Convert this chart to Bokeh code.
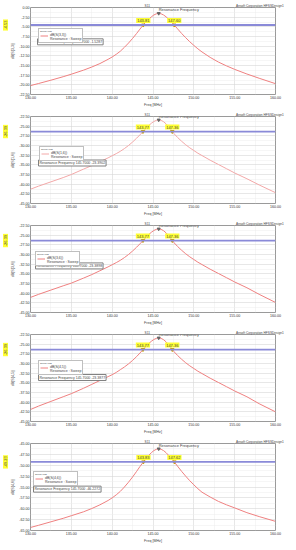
from bokeh.plotting import figure
from bokeh.layouts import column
from bokeh.models import (Label, Span, Range1d, FixedTicker, NumeralTickFormatter,
                          Legend, LegendItem, LinearAxis, Title)
from bokeh.embed import file_html
from bokeh.resources import INLINE

# ---------------- data ----------------
freq = [130, 131, 132.5, 134, 135, 136.5, 137.5, 138.5, 139.5, 140, 140.5, 141, 141.5,
        142, 142.5, 143, 143.4, 143.8, 144.2, 144.5, 144.8, 145.1, 145.4, 145.7, 146.0,
        146.3, 146.6, 146.9, 147.2, 147.6, 148.0, 148.5, 149, 149.5, 150, 150.5, 151,
        152, 153, 154, 155, 156.5, 158, 160]

db_s33 = [-20.2, -19.65, -18.8, -17.9, -17.25, -16.2, -15.4, -14.5, -13.4, -12.8, -12.1,
          -11.3, -10.3, -9.2, -8.0, -6.7, -5.6, -4.53, -3.6, -3.0, -2.41, -1.94, -1.64,
          -1.53, -1.64, -1.94, -2.41, -3.0, -3.6, -4.53, -5.5, -6.7, -7.8, -8.85, -9.8,
          -10.7, -11.5, -12.9, -14.1, -15.1, -16.0, -17.2, -18.3, -19.7]
db_s16 = [-41.3, -40.5, -39.4, -38.3, -37.5, -36.1, -35.2, -34.2, -33.2, -32.65, -32.1,
          -31.5, -30.8, -30.0, -29.1, -28.1, -27.25, -26.35, -25.4, -24.8, -24.25, -23.8,
          -23.5, -23.39, -23.5, -23.85, -24.4, -25.1, -25.9, -27.0, -27.9, -28.9, -29.8,
          -30.6, -31.3, -32.0, -32.6, -33.8, -34.9, -36.0, -37.1, -38.6, -40.2, -42.2]
db_s36 = [-41.1, -40.3, -39.2, -38.1, -37.4, -36.1, -35.2, -34.2, -33.2, -32.65, -32.1,
          -31.5, -30.8, -30.0, -29.1, -28.1, -27.25, -26.35, -25.4, -24.8, -24.25, -23.8,
          -23.5, -23.39, -23.5, -23.85, -24.4, -25.1, -25.9, -27.0, -27.9, -28.9, -29.8,
          -30.6, -31.3, -32.0, -32.6, -33.8, -34.9, -36.0, -37.1, -38.6, -40.3, -42.4]
db_s45 = [-41.9, -41.0, -39.8, -38.6, -37.8, -36.4, -35.4, -34.4, -33.4, -32.9, -32.3,
          -31.6, -30.9, -30.1, -29.2, -28.2, -27.3, -26.35, -25.4, -24.8, -24.25, -23.8,
          -23.5, -23.39, -23.5, -23.85, -24.4, -25.1, -25.9, -27.0, -27.9, -28.9, -29.8,
          -30.6, -31.3, -32.0, -32.6, -33.8, -34.9, -36.0, -37.1, -38.6, -40.4, -42.5]
db_s46 = [-64.3, -63.8, -63.0, -62.2, -61.6, -60.7, -59.95, -59.1, -58.1, -57.5, -56.8,
          -56.0, -55.0, -53.9, -52.7, -51.4, -50.3, -49.3, -48.3, -47.7, -47.11, -46.64,
          -46.34, -46.23, -46.34, -46.64, -47.11, -47.7, -48.3, -49.23, -50.2, -51.4,
          -52.5, -53.55, -54.5, -55.4, -56.2, -57.3, -58.3, -59.1, -59.8, -60.9, -61.8,
          -62.9]

curves = [db_s33, db_s16, db_s36, db_s45, db_s46]
curve_names = ["dB(S(3,3))", "dB(S(1,6))", "dB(S(3,6))", "dB(S(4,5))", "dB(S(4,6))"]
res_freq = [145.7, 145.7, 145.7, 145.7, 145.7]
res_db = [-1.5287, -23.3902, -23.3898, -23.3877, -46.2272]
level_db = [-4.53, -26.39, -26.39, -26.39, -49.23]
level_text = ["-4.53", "-26.39", "-26.39", "-26.39", "-49.23"]
edge_lo = [143.81, 143.77, 143.77, 143.77, 143.83]
edge_hi = [147.60, 147.36, 147.36, 147.36, 147.62]
plot_title = "S11"
corner_text = "Ansoft Corporation   HFSSDesign1"

x_ticks = [130, 135, 140, 145, 150, 155, 160]
x_minor = [132.5, 137.5, 142.5, 147.5, 152.5, 157.5]
y_ticks_a = [0, -2.5, -5, -7.5, -10, -12.5, -15, -17.5, -20, -22.5]
y_ticks_b = [-22.5, -25, -27.5, -30, -32.5, -35, -37.5, -40, -42.5, -45]
y_ticks_c = [-45, -47.5, -50, -52.5, -55, -57.5, -60, -62.5, -65]
y_ticks = [y_ticks_a, y_ticks_b, y_ticks_b, y_ticks_b, y_ticks_c]

# ---------------- layout / style ----------------
FW, FH = 245, 87
BL, BR, BT, BB = 22, 10, 5, 12
FONT = "Liberation Sans"
curve_colors = ["#ef8080", "#f3a8a8", "#ef8080", "#ef8080", "#ef8080"]
# (legend left px, legend top fraction, res-box left px, res-box top fraction)
box_pos = [(8, 0.25, 7, 0.36), (9, 0.35, 8, 0.50), (5, 0.30, 5, 0.43),
           (8, 0.31, 8, 0.46), (3, 0.33, 3, 0.49)]
TITLE_X, CORNER_X = 144.3, 158.8
YEL_FS = 4.0
CHAR_EM = {"-": 0.333, ".": 0.278}


def text_len(s, fs):
    return sum(CHAR_EM.get(c, 0.556) for c in s) * fs


figs = []
for i in range(5):
    yt = y_ticks[i]
    ymin, ymax = min(yt), max(yt)
    p = figure(frame_width=FW, frame_height=FH, x_range=Range1d(130, 160),
               y_range=Range1d(ymin, ymax), output_backend="svg",
               toolbar_location=None, min_border_left=BL, min_border_right=BR,
               min_border_top=BT, min_border_bottom=BB)
    p.outline_line_color = "#9a9a9a"
    p.background_fill_color = "white"
    p.border_fill_color = "white"

    xa = p.below[0]
    ya = p.left[0]
    xa.ticker = FixedTicker(ticks=x_ticks, minor_ticks=x_minor)
    ya.ticker = FixedTicker(ticks=yt, minor_ticks=[v - 1.25 for v in yt[:-1]])
    xa.formatter = NumeralTickFormatter(format="0.00")
    ya.formatter = NumeralTickFormatter(format="0.00")
    xa.axis_label = "Freq [MHz]"
    ya.axis_label = curve_names[i]

    # top axis used only to carry the title and corner texts on one line
    top = LinearAxis(ticker=FixedTicker(ticks=[TITLE_X, CORNER_X]),
                     major_label_overrides={TITLE_X: plot_title, CORNER_X: corner_text})
    p.add_layout(top, "above")

    for ax in (xa, ya, top):
        ax.axis_line_color = None
        ax.major_tick_line_color = None
        ax.minor_tick_line_color = None
        ax.major_tick_out = 0
        ax.major_tick_in = 0
        ax.minor_tick_out = 0
        ax.minor_tick_in = 0
        ax.major_label_text_font_size = "3.6px"
        ax.major_label_text_font = FONT
        ax.major_label_text_color = "#333333"
        ax.major_label_standoff = 1
        ax.axis_label_text_font_size = "3.6px"
        ax.axis_label_text_font = FONT
        ax.axis_label_text_font_style = "normal"
        ax.axis_label_standoff = 1
    top.major_label_text_font_size = "3.2px"
    top.major_label_text_color = "#444444"
    top.major_label_standoff = 0

    for g in (p.xgrid[0], p.ygrid[0]):
        g.grid_line_color = "#d6d6d6"
        g.grid_line_width = 0.6
        g.minor_grid_line_color = "#ececec"
        g.minor_grid_line_width = 0.5

    # yellow level value, outside the y axis
    lvl_px = (level_db[i] - ymin) / (ymax - ymin) * FH
    tl = text_len(level_text[i], YEL_FS) + 2
    p.add_layout(Title(text=level_text[i], align="left", offset=lvl_px - tl / 2,
                       text_font_size=f"{YEL_FS}px", text_font=FONT,
                       text_font_style="normal", background_fill_color="#ffff33",
                       padding=1, standoff=1), "left")

    # 3 dB level line
    p.add_layout(Span(location=level_db[i], dimension="width", line_color="#8a8ad8",
                      line_width=1.8))
    # curve
    r = p.line(freq, curves[i], line_color=curve_colors[i], line_width=1.0)
    dummy = p.line([], [], line_alpha=0)

    # markers at band edges
    p.scatter([edge_lo[i], edge_hi[i]], [level_db[i], level_db[i]],
              marker="inverted_triangle", size=3.5, color="#c9a400")
    for xe in (edge_lo[i], edge_hi[i]):
        p.add_layout(Label(x=xe, y=level_db[i], y_offset=2, text=f"{xe:.2f}",
                           text_align="center", text_baseline="bottom",
                           text_font_size="4px", text_font=FONT,
                           background_fill_color="#ffff33", padding=1))
    # resonance marker
    p.scatter([res_freq[i]], [res_db[i]], marker="inverted_triangle", size=3,
              color="#666666")
    p.add_layout(Label(x=res_freq[i], y=res_db[i], y_offset=1,
                       text="Resonance Frequency", text_align="left",
                       text_baseline="bottom", text_font_size="4px", text_font=FONT))

    lx, lt, rx, rt = box_pos[i]
    legend = Legend(items=[LegendItem(label=curve_names[i], renderers=[r]),
                           LegendItem(label="Resonance : Sweep", renderers=[dummy])],
                    location=(lx, int(FH * (1 - lt)) - 14), title="Curve Info",
                    title_text_font_size="2.5px", title_standoff=0,
                    label_text_font_size="3.5px", label_text_font=FONT,
                    glyph_width=8, glyph_height=3, label_height=3, label_standoff=2,
                    spacing=0, padding=1, margin=0, border_line_color="#808080",
                    background_fill_alpha=1)
    p.add_layout(legend)

    p.add_layout(Label(x=rx, y=FH * (1 - rt), x_units="screen", y_units="screen",
                       text=f"Resonance Frequency 145.7000 {res_db[i]:.4f}",
                       text_align="left", text_baseline="top",
                       text_font_size="3.5px", text_font=FONT,
                       background_fill_color="white", border_line_color="#808080",
                       padding=1))
    figs.append(p)

layout = column(*figs, spacing=0)
open("out.html", "w").write(file_html(layout, INLINE))
